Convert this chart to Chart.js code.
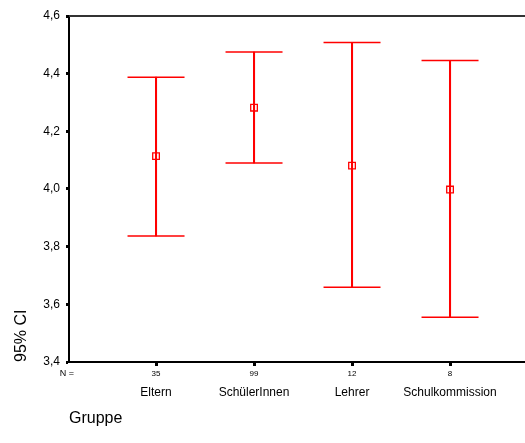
<!DOCTYPE html>
<html lang="de">
<head>
<meta charset="UTF-8">
<title>95% CI nach Gruppe</title>
<script src="https://cdn.jsdelivr.net/npm/chart.js"></script>
<style>
  html, body { margin: 0; padding: 0; background: #fff; }
  canvas { display: block; }
</style>
</head>
<body>
<canvas id="ciChart" width="525" height="443"></canvas>
<script>
// Gruppen, Fallzahlen und 95%-Konfidenzintervalle
const gruppen = ["Eltern", "SchülerInnen", "Lehrer", "Schulkommission"];
const fallzahlen = [35, 99, 12, 8];
const mittelwerte = [4.114, 4.282, 4.081, 3.998];
const untereGrenze = [3.837, 4.090, 3.659, 3.555];
const obereGrenze = [4.388, 4.475, 4.508, 4.446];
const yTicks = [3.4, 3.6, 3.8, 4.0, 4.2, 4.4, 4.6];

const rot = "#ff0000";
const schrift = "'Liberation Sans', Arial, sans-serif";
const pos = gruppen.map((g, i) => i + 1);
const xMin = 0.112, xMax = 4.765;

Chart.defaults.font.family = schrift;
Chart.defaults.color = "#000";

// Zeile mit den Fallzahlen unter der x-Achse, obere Rahmenlinie
const nZeile = {
  id: "nZeile",
  afterDraw(chart) {
    const { ctx, chartArea, scales } = chart;
    ctx.save();
    ctx.strokeStyle = "#333";
    ctx.lineWidth = 2;
    ctx.beginPath();
    ctx.moveTo(chartArea.left, chartArea.top);
    ctx.lineTo(chartArea.right, chartArea.top);
    ctx.stroke();
    ctx.fillStyle = "#000";
    ctx.textAlign = "center";
    ctx.textBaseline = "middle";
    ctx.font = "8px " + schrift;
    fallzahlen.forEach((n, i) => {
      ctx.fillText(String(n), scales.x.getPixelForValue(pos[i]), chartArea.bottom + 12);
    });
    ctx.font = "9px " + schrift;
    ctx.fillText("N =", chartArea.left - 2, chartArea.bottom + 12);
    ctx.restore();
  }
};

new Chart(document.getElementById("ciChart"), {
  type: "bar",
  data: {
    datasets: [
      {
        // senkrechte Linie des Intervalls
        type: "bar",
        data: pos.map((p, i) => ({ x: p, y: [untereGrenze[i], obereGrenze[i]] })),
        backgroundColor: rot,
        borderWidth: 0,
        barThickness: 1.4
      },
      {
        // Querstriche an den Intervallgrenzen
        type: "scatter",
        data: pos.flatMap((p, i) => [{ x: p, y: untereGrenze[i] }, { x: p, y: obereGrenze[i] }]),
        pointStyle: "line",
        pointRadius: 28.5,
        borderColor: rot,
        borderWidth: 1.5
      },
      {
        // Mittelwert
        type: "scatter",
        data: pos.map((p, i) => ({ x: p, y: mittelwerte[i] })),
        pointStyle: "rect",
        pointRadius: 4.7,
        backgroundColor: "rgba(0,0,0,0)",
        borderColor: rot,
        borderWidth: 1.3
      }
    ]
  },
  options: {
    responsive: false,
    animation: false,
    events: [],
    clip: false,
    layout: { autoPadding: false, padding: { top: 16, right: 0, left: 0, bottom: 0 } },
    plugins: { legend: { display: false }, tooltip: { enabled: false } },
    scales: {
      x: {
        type: "linear",
        position: "bottom",
        offset: false,
        min: xMin,
        max: xMax,
        afterBuildTicks: s => { s.ticks = pos.map(v => ({ value: v })); },
        afterFit: s => { s.height = 81; s.paddingLeft = 0; s.paddingRight = 0; },
        grid: { offset: false, drawOnChartArea: false, tickLength: 4, tickWidth: 3, tickColor: "#000" },
        border: { color: "#000", width: 2 },
        ticks: {
          callback: (v, i) => gruppen[i],
          padding: 19,
          autoSkip: false,
          maxRotation: 0,
          font: { size: 12 }
        },
        title: {
          display: true,
          text: "Gruppe",
          align: "start",
          font: { size: 16 },
          padding: { top: 0, bottom: 15 }
        }
      },
      y: {
        min: 3.4,
        max: 4.6,
        afterBuildTicks: s => { s.ticks = yTicks.map(v => ({ value: v })); },
        afterFit: s => { s.width = 69; s.paddingTop = 0; s.paddingBottom = 0; },
        grid: { drawOnChartArea: false, tickLength: 3, tickWidth: 3, tickColor: "#000" },
        border: { color: "#000", width: 2 },
        ticks: {
          callback: v => v.toFixed(1).replace(".", ","),
          padding: 6,
          font: { size: 12 }
        },
        title: {
          display: true,
          text: "95% CI",
          align: "start",
          font: { size: 16 },
          padding: { top: 12, bottom: 0 }
        }
      }
    }
  },
  plugins: [nZeile]
});
</script>
</body>
</html>
